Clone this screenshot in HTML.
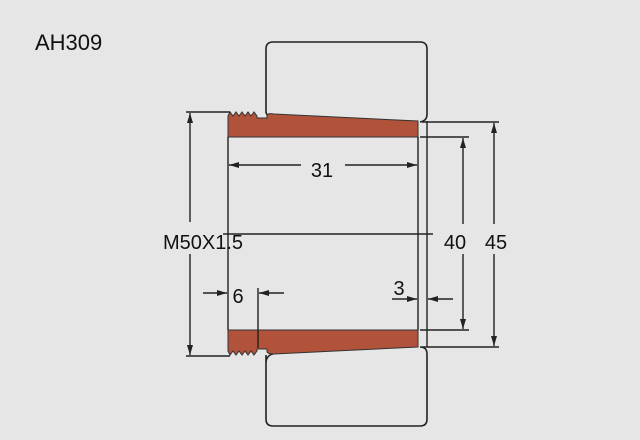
<!DOCTYPE html>
<html><head><style>
html,body{margin:0;padding:0;background:#e6e6e6;}
svg{display:block;}
text{font-family:"Liberation Sans","DejaVu Sans",sans-serif;fill:#111;}
</style></head><body>
<svg width="640" height="440" viewBox="0 0 640 440" xmlns="http://www.w3.org/2000/svg">
<defs>
<marker id="a" markerWidth="10" markerHeight="6" refX="10" refY="3" orient="auto" markerUnits="userSpaceOnUse">
<path d="M0,0 L10,3 L0,6 Z" fill="#222"/></marker>
</defs>
<rect width="640" height="440" fill="#e6e6e6"/>
<text x="35" y="50" font-size="22">AH309</text>
<!-- housing -->
<path d="M266,113 V49 Q266,42 273,42 H420 Q427,42 427,49 V114 Q427,121 420,122" fill="none" stroke="#222" stroke-width="1.6"/>
<path d="M266,355 V419 Q266,426 273,426 H420 Q427,426 427,419 V354 Q427,347 420,347" fill="none" stroke="#222" stroke-width="1.6"/>
<path d="M266,112 Q267,118 273,119" fill="none" stroke="#222" stroke-width="1.4"/>
<path d="M266,362 Q267,355 273,354" fill="none" stroke="#222" stroke-width="1.4"/>
<!-- top sleeve -->
<path d="M228,137 V116 L230,112 L233,116 L236,112 L239,116 L242,112 L245,116 L248,112 L251,116 L254,112 L257,116 V118 H267 V115 Q268,113 274,114 L418,121 V137 Z" fill="#b0533a" stroke="#333" stroke-width="1"/>
<!-- bottom sleeve -->
<path d="M228,330 V351 L230,355 L233,351 L236,355 L239,351 L242,355 L245,351 L248,355 L251,351 L254,355 L257,351 V349 H267 V352 Q268,354 274,354 L418,347 V330 Z" fill="#b0533a" stroke="#333" stroke-width="1"/>
<g stroke="#222" stroke-width="1.4" fill="none">
<line x1="228" y1="137" x2="228" y2="330"/>
<line x1="418" y1="137" x2="418" y2="330"/>
<line x1="427" y1="121" x2="427" y2="347"/>
<line x1="223" y1="234" x2="433" y2="234"/>
<line x1="186" y1="112" x2="230" y2="112"/>
<line x1="186" y1="356" x2="230" y2="356"/>
<line x1="190" y1="222" x2="190" y2="113" marker-end="url(#a)"/>
<line x1="190" y1="254" x2="190" y2="355" marker-end="url(#a)"/>
<line x1="420" y1="137" x2="469" y2="137"/>
<line x1="420" y1="330" x2="469" y2="330"/>
<line x1="463" y1="224" x2="463" y2="138" marker-end="url(#a)"/>
<line x1="463" y1="254" x2="463" y2="329" marker-end="url(#a)"/>
<line x1="422" y1="122" x2="499" y2="122"/>
<line x1="422" y1="347" x2="499" y2="347"/>
<line x1="494" y1="224" x2="494" y2="123" marker-end="url(#a)"/>
<line x1="494" y1="254" x2="494" y2="346" marker-end="url(#a)"/>
<line x1="301" y1="165" x2="229" y2="165" marker-end="url(#a)"/>
<line x1="345" y1="165" x2="417" y2="165" marker-end="url(#a)"/>
<line x1="203" y1="293" x2="227" y2="293" marker-end="url(#a)"/>
<line x1="284" y1="293" x2="259" y2="293" marker-end="url(#a)"/>
<line x1="258" y1="288" x2="258" y2="348"/>
<line x1="392" y1="299" x2="417" y2="299" marker-end="url(#a)"/>
<line x1="453" y1="299" x2="428" y2="299" marker-end="url(#a)"/>
</g>
<text x="322" y="177" font-size="20" text-anchor="middle">31</text>
<text x="163" y="249" font-size="20">M50X1.5</text>
<text x="455" y="249" font-size="20" text-anchor="middle">40</text>
<text x="496" y="249" font-size="20" text-anchor="middle">45</text>
<text x="238" y="303" font-size="20" text-anchor="middle">6</text>
<text x="399" y="295" font-size="20" text-anchor="middle">3</text>
</svg>
</body></html>
